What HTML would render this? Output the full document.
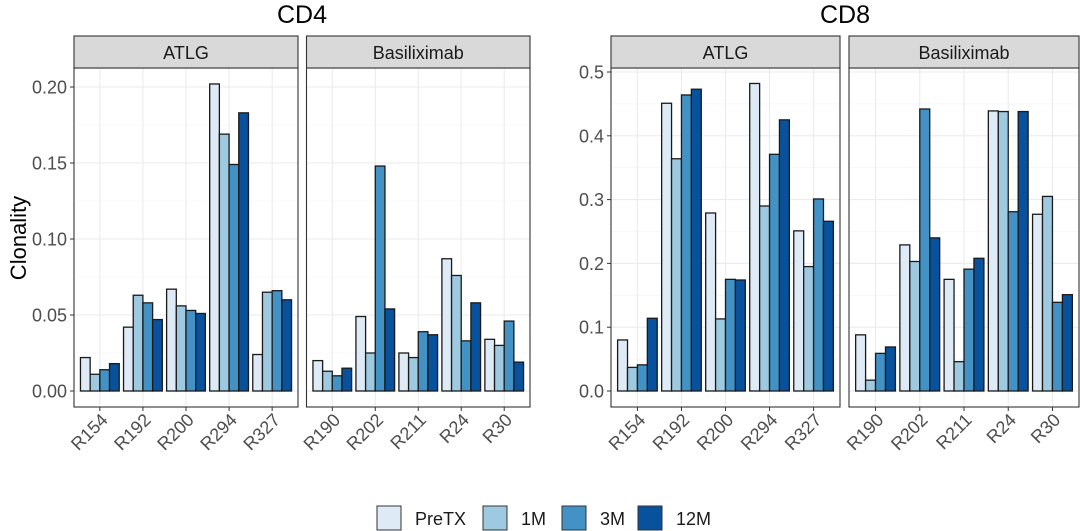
<!DOCTYPE html>
<html><head><meta charset="utf-8"><style>
body{margin:0;background:#fff;}
svg{display:block;font-family:"Liberation Sans",sans-serif;}
</style></head><body>
<svg id="chart" width="1080" height="531" viewBox="0 0 1080 531" xmlns="http://www.w3.org/2000/svg"></svg>
<script>
const seriesNames = ["PreTX","1M","3M","12M"];
const seriesColors = ["#deebf7","#9ecae1","#4292c6","#08519c"];
const atlgCats = ["R154","R192","R200","R294","R327"];
const basCats = ["R190","R202","R211","R24","R30"];
const cd4Atlg = [[0.022,0.011,0.014,0.018],[0.042,0.063,0.058,0.047],[0.067,0.056,0.053,0.051],[0.202,0.169,0.149,0.183],[0.024,0.065,0.066,0.060]];
const cd4Bas = [[0.020,0.013,0.010,0.015],[0.049,0.025,0.148,0.054],[0.025,0.022,0.039,0.037],[0.087,0.076,0.033,0.058],[0.034,0.030,0.046,0.019]];
const cd8Atlg = [[0.080,0.037,0.041,0.114],[0.451,0.364,0.464,0.473],[0.279,0.113,0.175,0.174],[0.482,0.290,0.371,0.425],[0.251,0.195,0.301,0.266]];
const cd8Bas = [[0.088,0.017,0.059,0.069],[0.229,0.203,0.442,0.240],[0.175,0.046,0.191,0.208],[0.439,0.438,0.281,0.438],[0.277,0.305,0.139,0.151]];
const cd4Ticks = [0,0.05,0.10,0.15,0.20];
const cd4TickLabels = ["0.00","0.05","0.10","0.15","0.20"];
const cd8Ticks = [0,0.1,0.2,0.3,0.4,0.5];
const cd8TickLabels = ["0.0","0.1","0.2","0.3","0.4","0.5"];

const svg = document.getElementById('chart');
const NS = "http://www.w3.org/2000/svg";
function mk(tag, attrs, parent){const e=document.createElementNS(NS,tag);for(const k in attrs)e.setAttribute(k,attrs[k]);(parent||svg).appendChild(e);return e;}

const PT=68, PB=407, ZERO=391;
function drawPanel(x0,x1,title,cats,data,yScale,ticks,minorStep,name,showTicks,labels,labelX){
  const g=mk('g',{});
  
  
  const unit=(x1-x0)/5.2;
  const xs=i=>x0+(i+0.6)*unit;
  for(let v=minorStep/2; yScale(v)>PT; v+=minorStep){mk('line',{x1:x0,x2:x1,y1:yScale(v),y2:yScale(v),stroke:'#f2f2f2','stroke-width':0.6},g);}
  for(let v=-minorStep/2; yScale(v)<PB; v-=minorStep){mk('line',{x1:x0,x2:x1,y1:yScale(v),y2:yScale(v),stroke:'#f2f2f2','stroke-width':0.6},g);}
  ticks.forEach(t=>{mk('line',{x1:x0,x2:x1,y1:yScale(t),y2:yScale(t),stroke:'#ebebeb','stroke-width':1.1},g);});
  cats.forEach((c,i)=>{mk('line',{x1:xs(i),x2:xs(i),y1:PT,y2:PB,stroke:'#ebebeb','stroke-width':1.1},g);});
  const bw=unit*0.9/4;
  cats.forEach((c,i)=>{
    data[i].forEach((v,j)=>{
      const bx=xs(i)-unit*0.45+j*bw, y=yScale(v);
      const r=mk('rect',{x:bx,y:y,width:bw,height:ZERO-y,fill:seriesColors[j],stroke:'#1a1a1a','stroke-width':1.3},g);
      
      
    });
    mk('line',{x1:xs(i),x2:xs(i),y1:PB,y2:PB+4,stroke:'#333','stroke-width':1},g);
    const tx=mk('text',{x:0,y:0,'font-size':18,fill:'#4d4d4d','text-anchor':'end',transform:`translate(${xs(i)+9},${PB+14}) rotate(-45)`},g);
    tx.textContent=c;
    
    
  });
  mk('rect',{x:x0,y:PT,width:x1-x0,height:PB-PT,fill:'none',stroke:'#333','stroke-width':1.1},g);
  const s=mk('rect',{x:x0,y:36,width:x1-x0,height:PT-36,fill:'#d9d9d9',stroke:'#333','stroke-width':1.1},g);
  
  
  const st=mk('text',{x:(x0+x1)/2,y:59,'font-size':18,fill:'#1a1a1a','text-anchor':'middle'},g);
  st.textContent=title;
  if(showTicks){
    ticks.forEach((t,k)=>{
      mk('line',{x1:x0-4,x2:x0,y1:yScale(t),y2:yScale(t),stroke:'#333','stroke-width':1},g);
      const tl=mk('text',{x:labelX,y:yScale(t)+6.5,'font-size':18,fill:'#4d4d4d','text-anchor':'end'},g);
      tl.textContent=labels[k];
      
      
    });
  }
}
function scale(topVal,topY){const f=v=>ZERO-(v/topVal)*(ZERO-topY);f.max=topVal;return f;}
const y4=scale(0.20,87), y8=scale(0.5,72);
drawPanel(74,298,"ATLG",atlgCats,cd4Atlg,y4,cd4Ticks,0.05,'cd4-atlg',true,cd4TickLabels,67);
drawPanel(306.5,530,"Basiliximab",basCats,cd4Bas,y4,cd4Ticks,0.05,'cd4-basiliximab',false);
drawPanel(611,840,"ATLG",atlgCats,cd8Atlg,y8,cd8Ticks,0.1,'cd8-atlg',true,cd8TickLabels,604);
drawPanel(849,1079,"Basiliximab",basCats,cd8Bas,y8,cd8Ticks,0.1,'cd8-basiliximab',false);

const t1=mk('text',{x:302,y:23,'font-size':25,fill:'#000','text-anchor':'middle'});t1.textContent="CD4";

const t2=mk('text',{x:845,y:23,'font-size':25,fill:'#000','text-anchor':'middle'});t2.textContent="CD8";

const yl=mk('text',{x:0,y:0,'font-size':22,fill:'#000','text-anchor':'middle',transform:'translate(26,238) rotate(-90)'});yl.textContent="Clonality";


const legX=[377,483,562,638];
seriesNames.forEach((n,j)=>{
  const r=mk('rect',{x:legX[j],y:506,width:24,height:24,fill:seriesColors[j],stroke:'#333','stroke-width':1});
  
  
  const t=mk('text',{x:legX[j]+38,y:525,'font-size':18,fill:'#1a1a1a'});
  t.textContent=n;
  
  
});
</script>
</body></html>
